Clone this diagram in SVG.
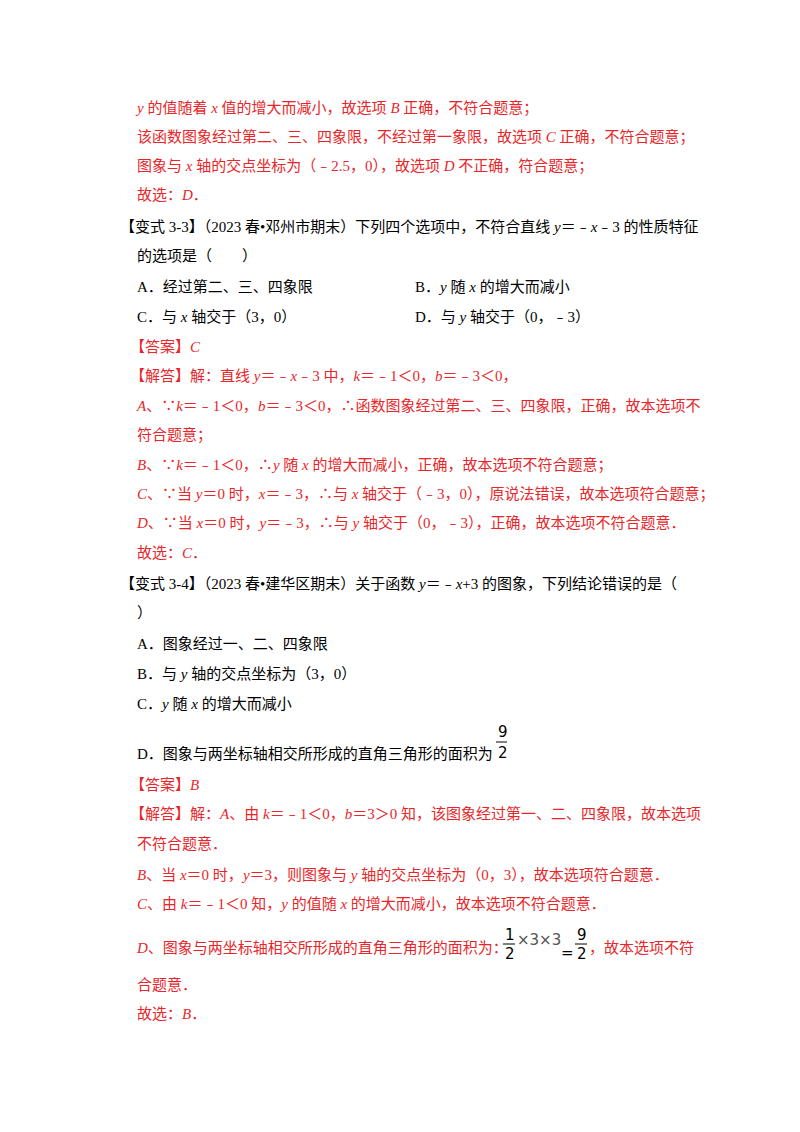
<svg xmlns="http://www.w3.org/2000/svg" width="800" height="1132" viewBox="0 0 800 1132">
<style>
text{font-family:"Liberation Serif","Noto Sans CJK SC",serif;font-size:15px;fill:#000}
.r{fill:#e8262a}
.i{font-style:italic}
.m{font-family:"DejaVu Sans","Liberation Sans",sans-serif;font-size:15px}
</style>
<rect width="800" height="1132" fill="#fff"/>
<text class="r" x="137" y="113"><tspan class="i">y</tspan> 的值随着 <tspan class="i">x</tspan> 值的增大而减小，故选项 <tspan class="i">B</tspan> 正确，不符合题意；</text>
<text class="r" x="137" y="142">该函数图象经过第二、三、四象限，不经过第一象限，故选项 <tspan class="i">C</tspan> 正确，不符合题意；</text>
<text class="r" x="137" y="171">图象与 <tspan class="i">x</tspan> 轴的交点坐标为（﹣2.5，0），故选项 <tspan class="i">D</tspan> 不正确，符合题意；</text>
<text class="r" x="137" y="200">故选：<tspan class="i">D</tspan>．</text>
<text x="120" y="232">【变式 3-3】（2023 春•邓州市期末）下列四个选项中，不符合直线 <tspan class="i">y</tspan>＝﹣<tspan class="i">x</tspan>﹣3 的性质特征</text>
<text x="137" y="261">的选项是（　　）</text>
<text x="137" y="292">A．经过第二、三、四象限</text>
<text x="415" y="292">B．<tspan class="i">y</tspan> 随 <tspan class="i">x</tspan> 的增大而减小</text>
<text x="137" y="322">C．与 <tspan class="i">x</tspan> 轴交于（3，0）</text>
<text x="415" y="322">D．与 <tspan class="i">y</tspan> 轴交于（0，﹣3）</text>
<text class="r" x="130" y="352">【答案】<tspan class="i">C</tspan></text>
<text class="r" x="130" y="381">【解答】解：直线 <tspan class="i">y</tspan>＝﹣<tspan class="i">x</tspan>﹣3 中，<tspan class="i">k</tspan>＝﹣1＜0，<tspan class="i">b</tspan>＝﹣3＜0，</text>
<text class="r" x="137" y="411"><tspan class="i">A</tspan>、∵<tspan class="i">k</tspan>＝﹣1＜0，<tspan class="i">b</tspan>＝﹣3＜0，∴函数图象经过第二、三、四象限，正确，故本选项不</text>
<text class="r" x="137" y="440">符合题意；</text>
<text class="r" x="137" y="470"><tspan class="i">B</tspan>、∵<tspan class="i">k</tspan>＝﹣1＜0，∴<tspan class="i">y</tspan> 随 <tspan class="i">x</tspan> 的增大而减小，正确，故本选项不符合题意；</text>
<text class="r" x="137" y="499"><tspan class="i">C</tspan>、∵当 <tspan class="i">y</tspan>＝0 时，<tspan class="i">x</tspan>＝﹣3，∴与 <tspan class="i">x</tspan> 轴交于（﹣3，0），原说法错误，故本选项符合题意；</text>
<text class="r" x="137" y="528"><tspan class="i">D</tspan>、∵当 <tspan class="i">x</tspan>＝0 时，<tspan class="i">y</tspan>＝﹣3，∴与 <tspan class="i">y</tspan> 轴交于（0，﹣3），正确，故本选项不符合题意．</text>
<text class="r" x="137" y="558">故选：<tspan class="i">C</tspan>．</text>
<text x="120" y="589">【变式 3-4】（2023 春•建华区期末）关于函数 <tspan class="i">y</tspan>＝﹣<tspan class="i">x</tspan>+3 的图象，下列结论错误的是（</text>
<text x="137" y="618">）</text>
<text x="137" y="649">A．图象经过一、二、四象限</text>
<text x="137" y="679">B．与 <tspan class="i">y</tspan> 轴的交点坐标为（3，0）</text>
<text x="137" y="709">C．<tspan class="i">y</tspan> 随 <tspan class="i">x</tspan> 的增大而减小</text>
<text x="137" y="759">D．图象与两坐标轴相交所形成的直角三角形的面积为</text>
<g id="frac1">
<text class="m" x="498" y="737">9</text>
<line x1="496" y1="742" x2="507" y2="742" stroke="#000" stroke-width="1"/>
<text class="m" x="498" y="758">2</text>
</g>
<text class="r" x="130" y="790">【答案】<tspan class="i">B</tspan></text>
<text class="r" x="130" y="819">【解答】解：<tspan class="i">A</tspan>、由 <tspan class="i">k</tspan>＝﹣1＜0，<tspan class="i">b</tspan>＝3＞0 知，该图象经过第一、二、四象限，故本选项</text>
<text class="r" x="137" y="849">不符合题意．</text>
<text class="r" x="137" y="880"><tspan class="i">B</tspan>、当 <tspan class="i">x</tspan>＝0 时，<tspan class="i">y</tspan>＝3，则图象与 <tspan class="i">y</tspan> 轴的交点坐标为（0，3），故本选项符合题意．</text>
<text class="r" x="137" y="909"><tspan class="i">C</tspan>、由 <tspan class="i">k</tspan>＝﹣1＜0 知，<tspan class="i">y</tspan> 的值随 <tspan class="i">x</tspan> 的增大而减小，故本选项不符合题意．</text>
<text class="r" x="137" y="953"><tspan class="i">D</tspan>、图象与两坐标轴相交所形成的直角三角形的面积为：</text>
<g id="frac2">
<text class="m" x="505" y="940">1</text>
<line x1="503" y1="944" x2="515" y2="944" stroke="#000" stroke-width="1"/>
<text class="m" x="505" y="959">2</text>
<text class="m" x="517" y="945" style="fill:#555">×3×3</text>
<text class="m" x="561" y="958">=</text>
<text class="m" x="577" y="940">9</text>
<line x1="575" y1="944" x2="587" y2="944" stroke="#000" stroke-width="1"/>
<text class="m" x="577" y="959">2</text>
</g>
<text class="r" x="589" y="953">，故本选项不符</text>
<text class="r" x="137" y="990">合题意．</text>
<text class="r" x="137" y="1019">故选：<tspan class="i">B</tspan>．</text>
</svg>
